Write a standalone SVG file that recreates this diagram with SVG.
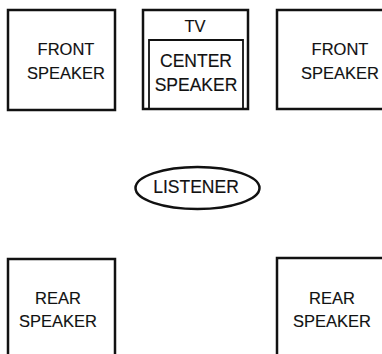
<svg xmlns="http://www.w3.org/2000/svg" width="382" height="354" viewBox="0 0 382 354">
<style>
.box{fill:none;stroke:#111;stroke-width:2.5}
.t{font-family:"Liberation Sans",Arial,sans-serif;font-size:16.5px;fill:#111;stroke:#111;stroke-width:0.15;text-anchor:middle}
.tc{font-size:17.5px}
</style>
<rect width="382" height="354" fill="#fff"/>
<g id="front-left">
<rect class="box" x="8" y="10" width="107" height="100"/>
<text class="t" x="66" y="55">FRONT</text>
<text class="t" x="66" y="79">SPEAKER</text>
</g>
<g id="tv">
<rect class="box" x="143" y="10" width="105" height="99"/>
<text class="t" x="195" y="32">TV</text>
</g>
<g id="center-speaker">
<polyline class="box" points="149,109 149,40 243,40 243,109" style="stroke-width:1.8"/>
<text class="t tc" x="196" y="67">CENTER</text>
<text class="t tc" x="196" y="91">SPEAKER</text>
</g>
<g id="front-right">
<polyline class="box" points="384,10 277,10 277,109 384,109"/>
<text class="t" x="340" y="55">FRONT</text>
<text class="t" x="340" y="79">SPEAKER</text>
</g>
<g id="listener">
<ellipse class="box" cx="197.5" cy="188" rx="62" ry="21"/>
<text class="t tc" x="196" y="193">LISTENER</text>
</g>
<g id="rear-left">
<polyline class="box" points="8,356 8,259 115,259 115,356"/>
<text class="t" x="58" y="304">REAR</text>
<text class="t" x="58" y="327">SPEAKER</text>
</g>
<g id="rear-right">
<polyline class="box" points="277,356 277,258 384,258"/>
<text class="t" x="332" y="304">REAR</text>
<text class="t" x="332" y="327">SPEAKER</text>
</g>
<g id="connectors"></g>
</svg>
